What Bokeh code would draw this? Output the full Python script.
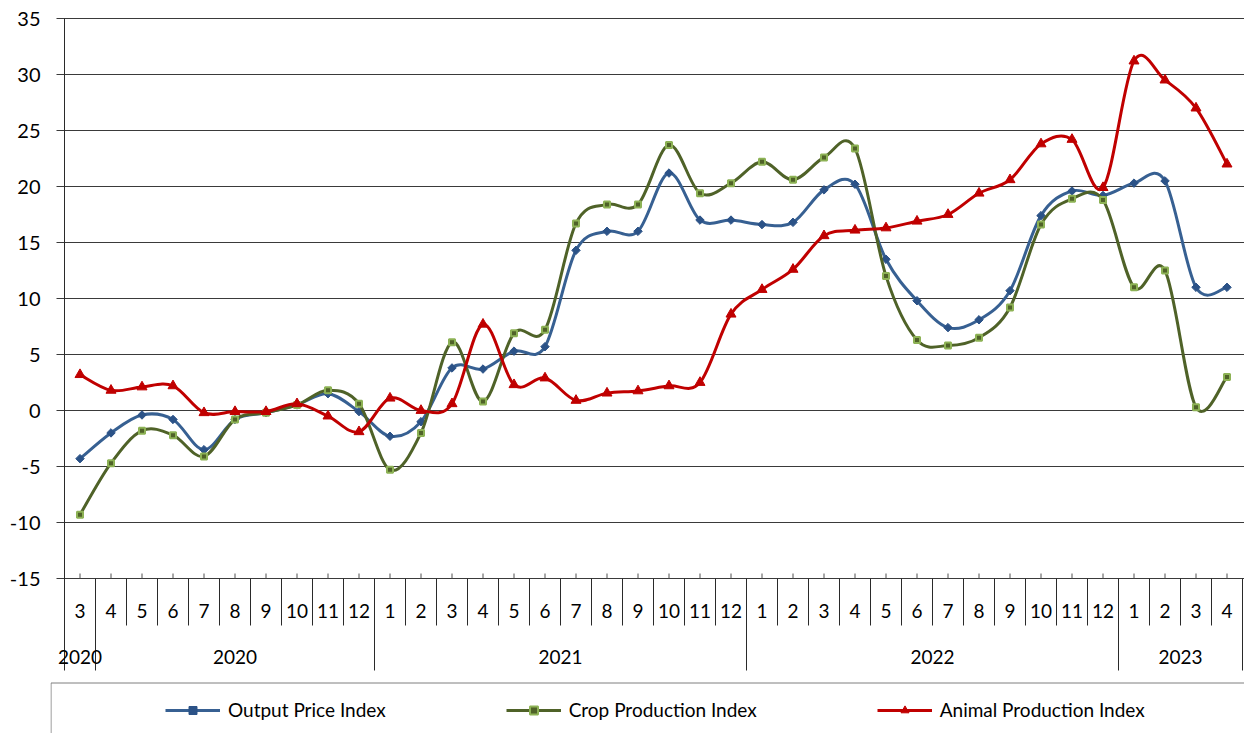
import numpy as np
from bokeh.plotting import figure
from bokeh.models import Range1d, FixedTicker, Legend, LegendItem, ColumnDataSource
from bokeh.core.properties import value
from bokeh.embed import file_html
from bokeh.resources import INLINE

# ---------------- data ----------------
months = ["3", "4", "5", "6", "7", "8", "9", "10", "11", "12",
          "1", "2", "3", "4", "5", "6", "7", "8", "9", "10", "11", "12",
          "1", "2", "3", "4", "5", "6", "7", "8", "9", "10", "11", "12",
          "1", "2", "3", "4"]
year_labels = ["2020", "2020", "2021", "2022", "2023"]
year_sizes = [1, 9, 12, 12, 4]

series_names = ["Output Price Index", "Crop Production Index", "Animal Production Index"]

output_price = [-4.3, -2.0, -0.4, -0.8, -3.5, -0.8, -0.2, 0.5, 1.5, -0.1,
                -2.3, -1.0, 3.8, 3.7, 5.3, 5.7, 14.3, 16.0, 16.0, 21.2, 17.0, 17.0,
                16.6, 16.8, 19.7, 20.2, 13.5, 9.8, 7.4, 8.1, 10.7, 17.4, 19.6, 19.2,
                20.3, 20.5, 11.0, 11.0]
crop_production = [-9.3, -4.7, -1.8, -2.2, -4.1, -0.8, -0.2, 0.5, 1.8, 0.6,
                   -5.3, -2.0, 6.1, 0.8, 6.9, 7.2, 16.7, 18.4, 18.4, 23.7, 19.4, 20.3,
                   22.2, 20.6, 22.6, 23.4, 12.0, 6.3, 5.8, 6.5, 9.2, 16.6, 18.9, 18.8,
                   11.0, 12.5, 0.3, 3.0]
animal_production = [3.2, 1.8, 2.1, 2.2, -0.2, -0.1, -0.1, 0.6, -0.5, -1.9,
                     1.1, 0.0, 0.6, 7.7, 2.3, 2.9, 0.9, 1.55, 1.75, 2.2, 2.5, 8.6,
                     10.8, 12.6, 15.6, 16.1, 16.3, 16.9, 17.5, 19.4, 20.6, 23.8, 24.2, 19.9,
                     31.2, 29.5, 27.0, 22.0]

y_ticks = [-15, -10, -5, 0, 5, 10, 15, 20, 25, 30, 35]

# ---------------- layout constants (pixels -> data units) ----------------
FONT = "Lato"
PXY = 11.2          # pixels per y unit
PXX = 31.0          # pixels per category
Y_MIN, Y_MAX = -15, 35
X_LEFT = -0.5 - 14 / PXX          # frame starts 14px left of the first category
GRID_LEFT = -0.5 - 8 / PXX        # grid lines / ticks begin 8px left of the axis
MONTH_SEP_BOTTOM = Y_MIN - 47 / PXY
YEAR_SEP_BOTTOM = Y_MIN - 92 / PXY
MONTH_LABEL_Y = Y_MIN - 32 / PXY
YEAR_LABEL_Y = Y_MIN - 78 / PXY
TICK_UP = 5 / PXY
LEGEND_TOP = Y_MAX - 664.5 / PXY

n = len(months)
xs = list(range(n))
W, H = 1244, 733
TOP = 16            # frame top (px); the 35 line sits 2px lower
LEFT = 50           # frame left (px)
x_end = X_LEFT + (W - LEFT) / PXX
y_top = Y_MAX + 2 / PXY
y_bottom = y_top - (H - TOP) / PXY

p = figure(width=W, height=H,
           x_range=Range1d(X_LEFT, x_end),
           y_range=Range1d(y_bottom, y_top),
           output_backend="svg", toolbar_location=None,
           min_border_left=LEFT, min_border_right=0, min_border_top=TOP, min_border_bottom=0,
           x_axis_type=None)
p.outline_line_color = None
p.background_fill_color = "white"
p.border_fill_color = "white"

yax = p.yaxis[0]
yax.ticker = FixedTicker(ticks=y_ticks)
yax.major_label_overrides = {t: str(t) for t in y_ticks}
yax.axis_line_color = None
yax.major_tick_out = 0
yax.major_tick_in = 0
yax.minor_tick_line_color = None
yax.major_tick_line_color = None
yax.major_label_standoff = 10
yax.major_label_text_font = FONT
yax.major_label_text_font_size = "20px"
yax.major_label_text_color = "#000000"
p.ygrid.visible = False

# horizontal grid lines (with the outer tick marks)
p.segment(x0=[GRID_LEFT] * len(y_ticks), y0=y_ticks, x1=[x_end + 1] * len(y_ticks), y1=y_ticks,
          line_color="#3a3a3a", line_width=1)

# category separators and tick marks
year_bounds = set(np.cumsum([0] + year_sizes).tolist())
sx, sy0, sy1 = [], [], []
for k in range(n + 1):
    b = k - 0.5
    sx.append(b)
    if k == 0:
        sy0.append(Y_MAX)
        sy1.append(YEAR_SEP_BOTTOM)
    elif k in year_bounds:
        sy0.append(Y_MIN)
        sy1.append(YEAR_SEP_BOTTOM)
    else:
        sy0.append(Y_MIN)
        sy1.append(MONTH_SEP_BOTTOM)
p.segment(x0=sx, y0=sy0, x1=sx, y1=sy1, line_color="#2a2a2a", line_width=1)
p.segment(x0=xs, y0=[Y_MIN] * n, x1=xs, y1=[Y_MIN + TICK_UP] * n, line_color="#505050", line_width=1)

p.text(x=xs, y=[MONTH_LABEL_Y] * n, text=months, text_align="center", text_baseline="middle",
       text_font=value(FONT), text_font_size="19px", text_color="#000000")

starts = np.cumsum([0] + year_sizes[:-1])
year_x = [s + sz / 2 - 0.5 for s, sz in zip(starts, year_sizes)]
p.text(x=year_x, y=[YEAR_LABEL_Y] * len(year_labels), text=year_labels, text_align="center",
       text_baseline="middle", text_font=value(FONT), text_font_size="19px", text_color="#000000")

# legend frame (right and bottom edges fall outside the picture)
p.quad(left=[X_LEFT + 0.5 / PXX], right=[x_end + 5], top=[LEGEND_TOP], bottom=[y_bottom - 5],
       fill_color=None, line_color="#7f7f7f", line_width=1)


def smooth_source(xv, yv, t=1 / 6):
    m = len(xv)
    d = dict(x0=[], y0=[], x1=[], y1=[], cx0=[], cy0=[], cx1=[], cy1=[])
    for i in range(m - 1):
        a = i - 1 if i > 0 else i
        c = i + 2 if i + 2 < m else i + 1
        d["x0"].append(xv[i]); d["y0"].append(yv[i])
        d["x1"].append(xv[i + 1]); d["y1"].append(yv[i + 1])
        d["cx0"].append(xv[i] + (xv[i + 1] - xv[a]) * t)
        d["cy0"].append(yv[i] + (yv[i + 1] - yv[a]) * t)
        d["cx1"].append(xv[i + 1] - (xv[c] - xv[i]) * t)
        d["cy1"].append(yv[i + 1] - (yv[c] - yv[i]) * t)
    return ColumnDataSource(d)


styles = [
    dict(line="#376092", marker="square", angle=np.pi / 4, size=6, fill="#2b5287", mline="#2b5287", mw=1),
    dict(line="#4F6228", marker="square", angle=0, size=6, fill="#4F6228", mline="#8DB255", mw=2),
    dict(line="#C00000", marker="triangle", angle=0, size=10, fill="#C00000", mline="#C00000", mw=1),
]
all_series = [output_price, crop_production, animal_production]

items = []
for name, vals, st in zip(series_names, all_series, styles):
    src = smooth_source(xs, vals)
    lr = p.bezier(x0="x0", y0="y0", x1="x1", y1="y1", cx0="cx0", cy0="cy0", cx1="cx1", cy1="cy1",
                  source=src, line_color=st["line"], line_width=3)
    sr = p.scatter(x=xs, y=vals, marker=st["marker"], angle=st["angle"], size=st["size"],
                   fill_color=st["fill"], line_color=st["mline"], line_width=st["mw"])
    items.append(LegendItem(label=name, renderers=[lr, sr]))

legend = Legend(items=items, location=(115, 12), orientation="horizontal", padding=0, margin=0,
                spacing=120, glyph_width=55, glyph_height=20, label_standoff=8,
                border_line_color=None, background_fill_alpha=0,
                label_text_font=FONT, label_text_font_size="19px", label_text_color="#000000")
p.add_layout(legend, "center")

open("out.html", "w").write(file_html(p, INLINE))
